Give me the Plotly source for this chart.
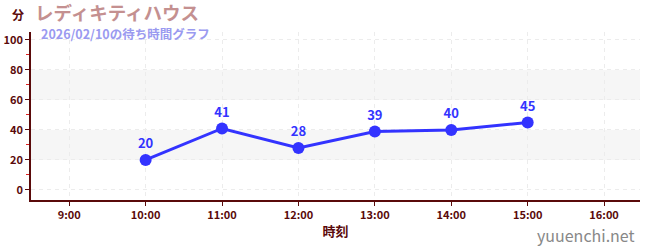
import plotly.graph_objects as go

hours = [10, 11, 12, 13, 14, 15]
waits = [20, 41, 28, 39, 40, 45]
tick_vals = [9, 10, 11, 12, 13, 14, 15, 16]
tick_text = ["9:00", "10:00", "11:00", "12:00", "13:00", "14:00", "15:00", "16:00"]
y_ticks = [0, 20, 40, 60, 80, 100]
bands = [(20, 40), (60, 80)]

FONT = "Noto Sans CJK JP"
AX = "#5a0a0a"
BLUE = "#3333ff"
L, R, T, B = 31, 10, 32, 50
W, H = 650, 250

fig = go.Figure()
fig.add_trace(go.Scatter(
    x=hours, y=waits, mode="lines+markers+text",
    text=[str(v) for v in waits], textposition="top center",
    textfont=dict(color=BLUE, size=13, family=FONT, weight="bold"),
    line=dict(color=BLUE, width=3),
    marker=dict(color=BLUE, size=12),
    cliponaxis=False, hoverinfo="skip",
))

for lo, hi in bands:
    fig.add_shape(type="rect", xref="paper", yref="y", x0=0, x1=1, y0=lo, y1=hi,
                  fillcolor="#f6f6f6", line_width=0, layer="below")

pw, ph = W - L - R, H - T - B
def px(x, y):
    return (x - L) / pw, (H - B - y) / ph

def ann(text, x, y, size, color, xanchor="left"):
    xx, yy = px(x, y)
    return dict(text=text, x=xx, y=yy, xref="paper", yref="paper", xanchor=xanchor,
                yanchor="middle", showarrow=False,
                font=dict(size=size, color=color, family=FONT))

fig.update_layout(
    width=W, height=H,
    margin=dict(l=L, r=R, t=T, b=B),
    paper_bgcolor="white", plot_bgcolor="white",
    showlegend=False,
    font=dict(family=FONT, color=AX),
    xaxis=dict(range=[8.5, 16.47], tickvals=tick_vals, ticktext=tick_text, automargin=False,
               showline=True, linecolor=AX, linewidth=1.5, ticks="outside",
               ticklen=4, tickcolor=AX, tickfont=dict(size=11, color=AX, weight="bold"),
               showgrid=True, gridcolor="#ececec", griddash="4px,4px", zeroline=False,
               title=dict(text="<b>時刻</b>", font=dict(size=13, color=AX), standoff=6)),
    yaxis=dict(range=[-6.67, 105.3], tickvals=y_ticks, automargin=False,
               showline=True, linecolor=AX, linewidth=1.5, ticks="outside",
               ticklen=4, tickcolor=AX, tickfont=dict(size=11, color=AX, weight="bold"),
               showgrid=True, gridcolor="#ececec", griddash="4px,4px", zeroline=False,
               minor=dict(tickvals=[10, 30, 50, 70, 90], ticks="outside", ticklen=3,
                          tickcolor="#dd2222", showgrid=False)),
    annotations=[
        ann("<b>分</b>", 10, 15, 12, AX),
        ann("<b>レディキティハウス</b>", 33, 12, 18.5, "#c49090"),
        ann("<b>2026/02/10の待ち時間グラフ</b>", 39, 33, 12.5, "#9a9af0"),
        ann("yuuenchi.net", 637, 235, 16, "#888888", xanchor="right"),
    ],
)

fig.write_html("out.html")
